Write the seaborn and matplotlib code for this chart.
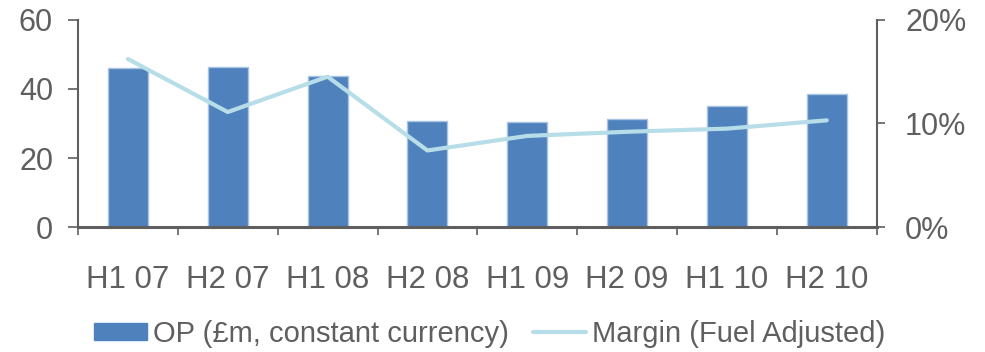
import matplotlib
matplotlib.use("Agg")
import matplotlib.pyplot as plt
import seaborn as sns
import pandas as pd
import numpy as np
from matplotlib.patches import Patch
from matplotlib.lines import Line2D
from matplotlib.ticker import FixedLocator

categories = ["H1 07", "H2 07", "H1 08", "H2 08", "H1 09", "H2 09", "H1 10", "H2 10"]
op_values = [46.0, 46.4, 43.6, 30.8, 30.3, 31.4, 34.9, 38.4]
margin_values = [16.2, 11.1, 14.5, 7.4, 8.8, 9.2, 9.5, 10.3]
left_ticks = [0, 20, 40, 60]
right_ticks = [0, 10, 20]
right_labels = ["0%", "10%", "20%"]
bar_label = "OP (£m, constant currency)"
line_label = "Margin (Fuel Adjusted)"

df = pd.DataFrame({"cat": categories, "op": op_values, "margin": margin_values})

sns.set_theme(style="white")
plt.rcParams["font.family"] = ["Liberation Sans", "DejaVu Sans"]

grey = "#5f5f5f"
bar_color = "#4F81BD"
line_color = "#B7DEE8"

fig = plt.figure(figsize=(9.85, 3.52), dpi=100)
ax = fig.add_axes([0.0792, 0.354, 0.8108, 0.5906])

sns.barplot(data=df, x="cat", y="op", ax=ax, color=bar_color, width=0.4,
            saturation=1, edgecolor="#A9C3E3", linewidth=1)
ax.set_ylim(0, 60)
ax.set_xlim(-0.5, len(categories) - 0.5)
ax.set_xlabel("")
ax.set_ylabel("")
ax.set_yticks(left_ticks)
ax.set_yticklabels([str(t) for t in left_ticks])

ax2 = ax.twinx()
sns.lineplot(data=df, x="cat", y="margin", ax=ax2, color=line_color, linewidth=3.0,
             sort=False)
ax2.set_ylim(0, 20)
ax2.set_xlim(-0.5, len(categories) - 0.5)
ax2.set_ylabel("")
ax2.set_yticks(right_ticks)
ax2.set_yticklabels(right_labels)

for a in (ax, ax2):
    for s in a.spines.values():
        s.set_visible(False)
    a.grid(False)

ax.spines["left"].set_visible(True)
ax.spines["left"].set_color(grey)
ax.spines["left"].set_linewidth(1.5)
ax.spines["bottom"].set_visible(True)
ax.spines["bottom"].set_color(grey)
ax.spines["bottom"].set_linewidth(2.2)
ax2.spines["right"].set_visible(True)
ax2.spines["right"].set_color(grey)
ax2.spines["right"].set_linewidth(1.5)

# x ticks at category boundaries, labels centered
ax.xaxis.set_minor_locator(FixedLocator(np.arange(-0.5, len(categories), 1.0)))
ax.tick_params(axis="x", which="major", length=0, labelsize=22.5, labelcolor=grey, pad=27)
ax.tick_params(axis="x", which="minor", length=6, width=1.2, color=grey, direction="out",
               bottom=True)
ax.tick_params(axis="y", which="major", length=7, width=1.2, color=grey, left=True,
               labelsize=22, labelcolor=grey, pad=11)
ax2.tick_params(axis="y", which="major", length=6, width=1.2, color=grey, right=True,
                labelsize=22, labelcolor=grey, pad=14.5)

handles = [Patch(facecolor=bar_color, edgecolor=bar_color),
           Line2D([0], [0], color=line_color, linewidth=3.0)]
fig.legend(handles, [bar_label, line_label], loc="center",
           bbox_to_anchor=(0.497, 1 - 334 / 352), ncol=2, frameon=False, fontsize=21,
           labelcolor=grey, handlelength=1.8, handleheight=0.55, handletextpad=0.2,
           columnspacing=0.85, borderpad=0, borderaxespad=0)

fig.savefig("out.png", dpi=100)
